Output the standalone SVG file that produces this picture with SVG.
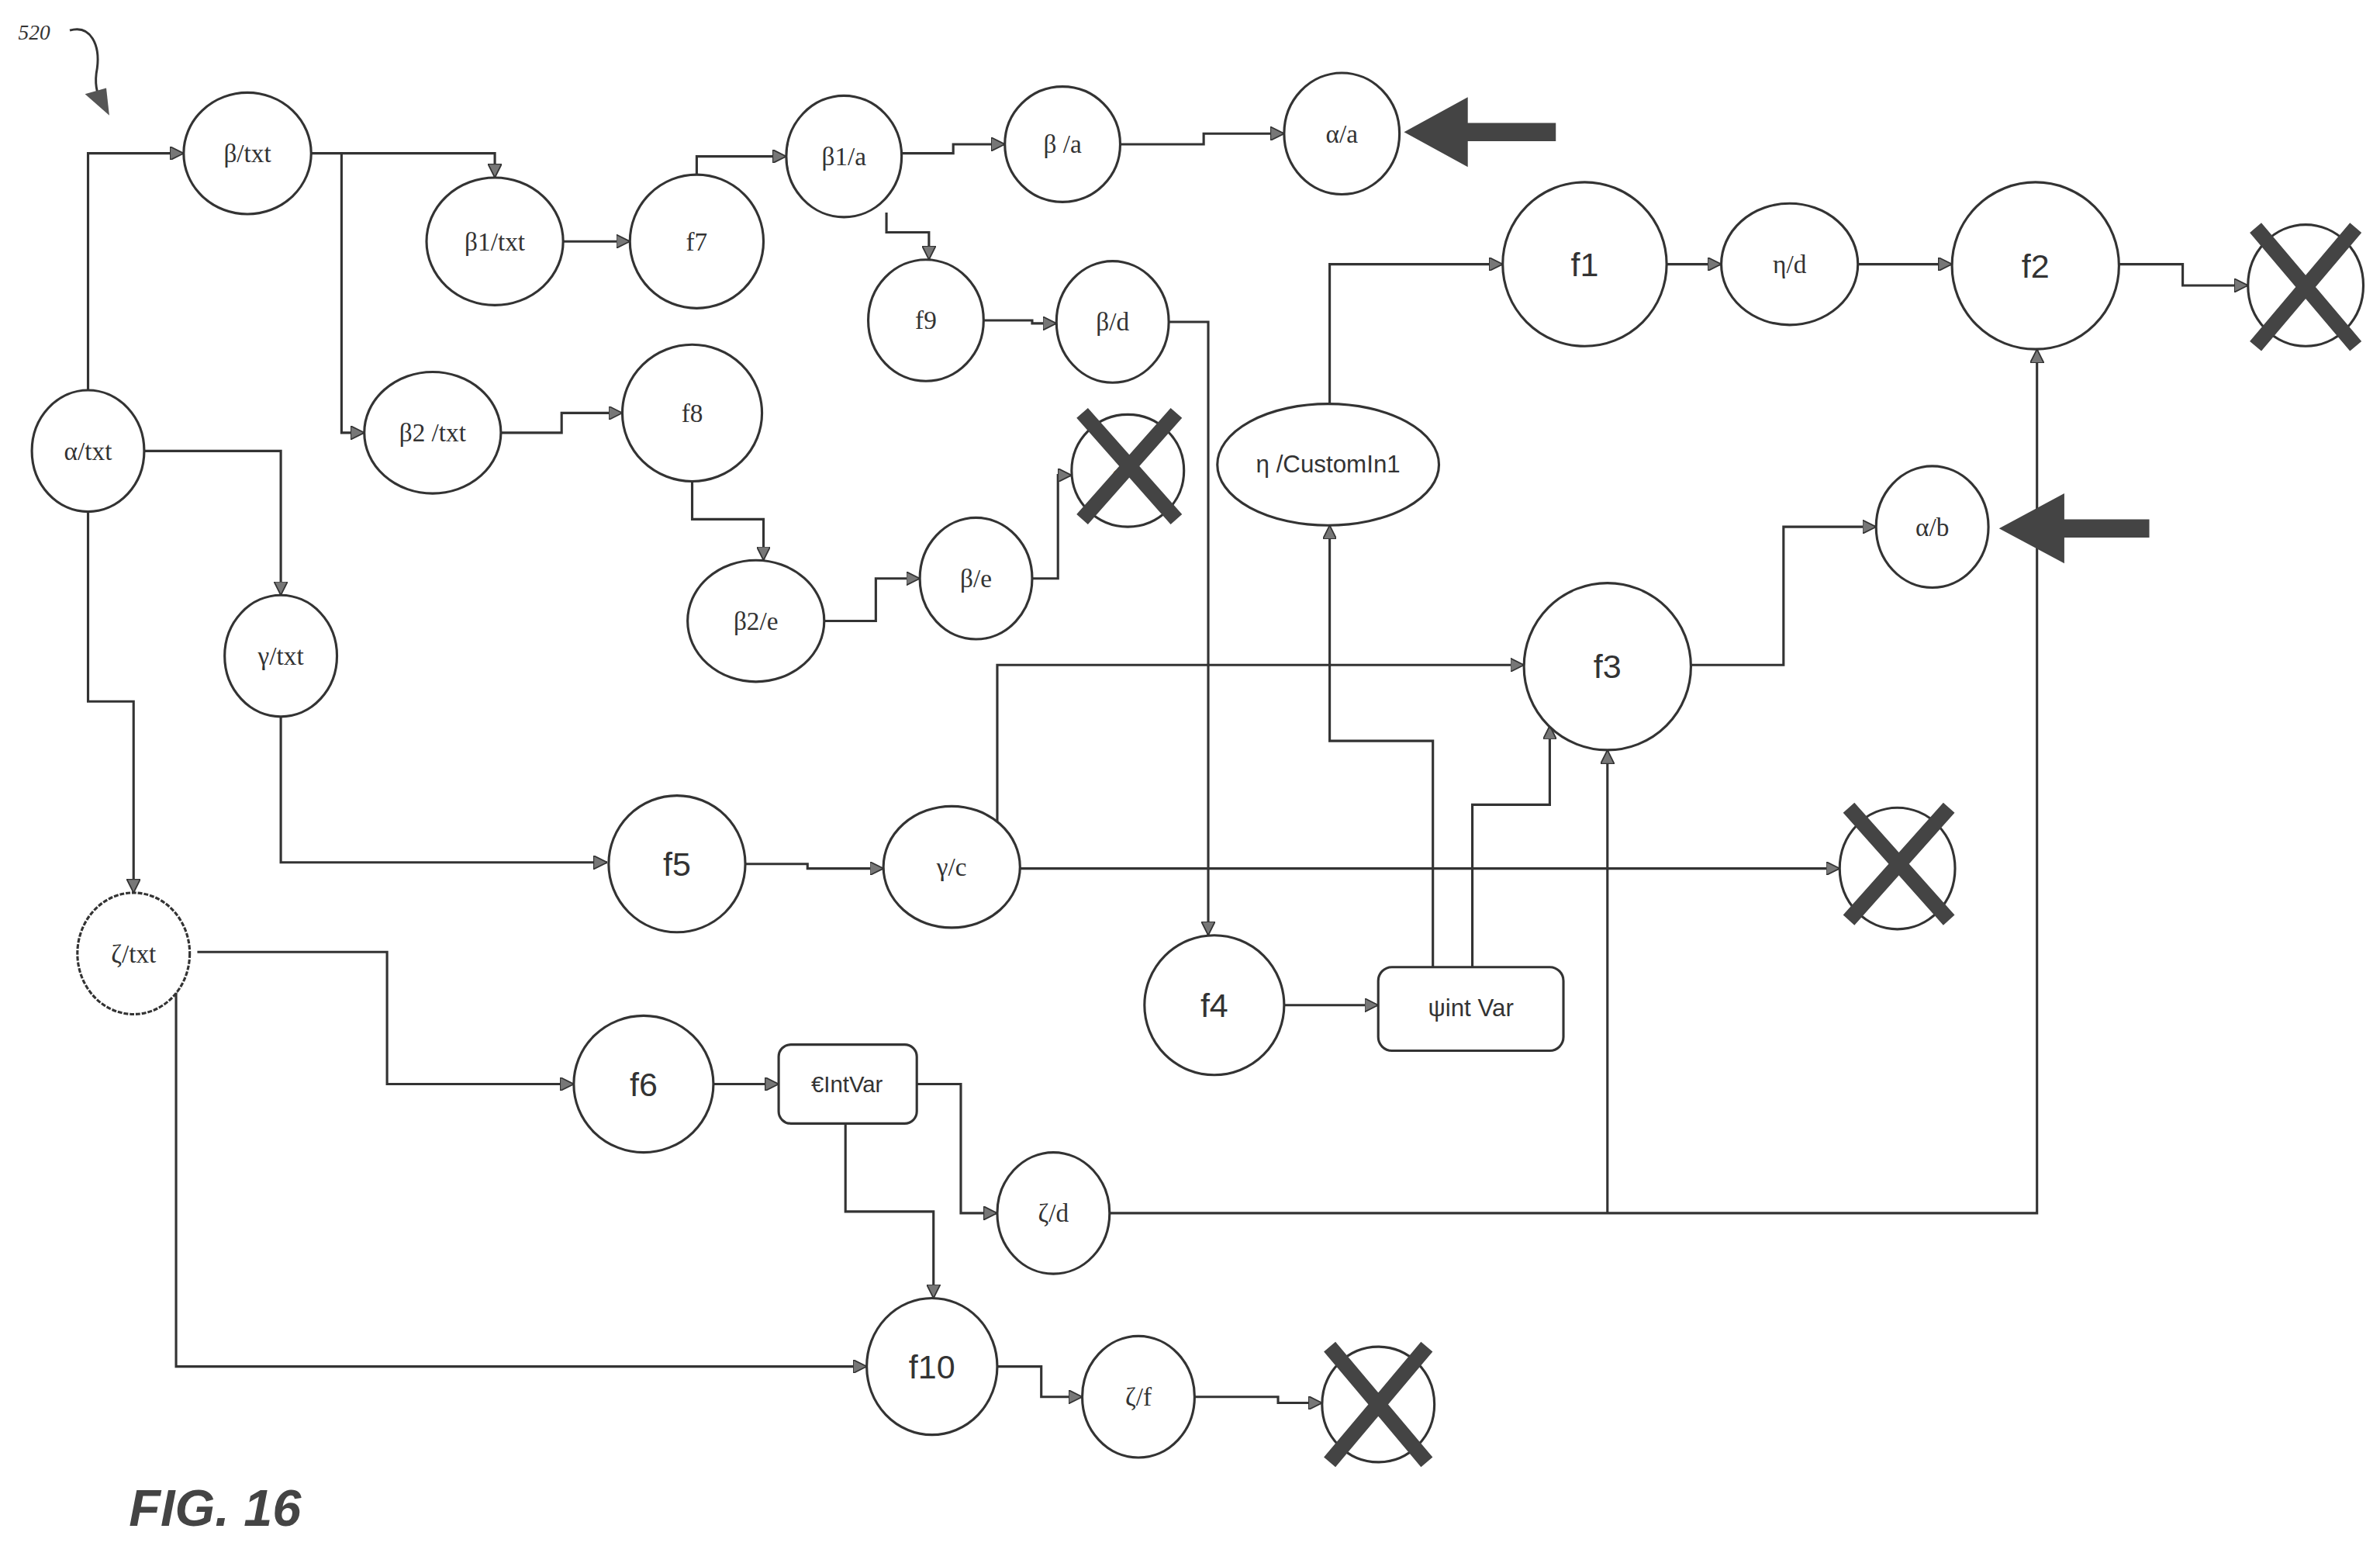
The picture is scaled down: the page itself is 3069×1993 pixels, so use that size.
<svg xmlns="http://www.w3.org/2000/svg" width="3069" height="1993" viewBox="0 0 3069 1993">
<style>
.n{fill:#fff;stroke:#333;stroke-width:1.6}
.c{fill:none;stroke:#333;stroke-width:1.6}
.g{font-family:"Liberation Serif",serif;font-size:17px;fill:#333;text-anchor:middle;dominant-baseline:central}
.s{font-family:"Liberation Sans",Arial,sans-serif;font-size:22px;fill:#333;text-anchor:middle;dominant-baseline:central}
.x{stroke:#444;stroke-width:10;stroke-linecap:butt}
.big{fill:#444}
</style>
<defs>
<marker id="a" viewBox="0 0 10 10" refX="10" refY="5" markerWidth="9" markerHeight="9" markerUnits="userSpaceOnUse" orient="auto">
<path d="M0,0 L10,5 L0,10 Z" fill="#777" stroke="#333" stroke-width="1"/>
</marker>
</defs>
<rect width="3069" height="1993" fill="#fff"/>
<g transform="scale(1.9573)">
<text x="12" y="26" style="font-family:'Liberation Serif',serif;font-size:14px;font-style:italic;fill:#333">520</text>
<path d="M46,20 C60,16 66,30 64,45 C62,55 64,62 66,64" fill="none" stroke="#333" stroke-width="1.5"/>
<path d="M56,62 L72,76 L70,58 Z" fill="#555"/>

<g id="connectors" class="c" marker-end="url(#a)">
<path d="M58,257 V101 H121"/>
<path d="M205,101 H326 V117"/>
<path d="M225,101 V285 H240"/>
<path d="M371,159 H415"/>
<path d="M459,115 V103 H518"/>
<path d="M594,101 H628 V95 H662"/>
<path d="M738,95 H793 V88 H846"/>
<path d="M584,140 V153 H612 V171"/>
<path d="M648,211 H680 V213 H696"/>
<path d="M770,212 H796 V616"/>
<path d="M330,285 H370 V272 H410"/>
<path d="M456,317 V342 H503 V369"/>
<path d="M543,409 H577 V381 H606"/>
<path d="M680,381 H697 V313 H706"/>
<path d="M95,297 H185 V392"/>
<path d="M185,472 V568 H400"/>
<path d="M491,569 H532 V572 H582"/>
<path d="M672,572 H1212"/>
<path d="M657,542 V438 H1004"/>
<path d="M58,337 V462 H88 V588"/>
<path d="M130,627 H255 V714 H378"/>
<path d="M116,652 V900 H571"/>
<path d="M470,714 H513"/>
<path d="M604,714 H633 V799 H657"/>
<path d="M557,740 V798 H615 V855"/>
<path d="M657,900 H686 V920 H713"/>
<path d="M787,920 H842 V924 H871"/>
<path d="M731,799 H1342 V230"/>
<path d="M1059,799 V494"/>
<path d="M846,662 H908"/>
<path d="M944,637 V488 H876 V346"/>
<path d="M970,637 V530 H1021 V478"/>
<path d="M876,266 V174 H990"/>
<path d="M1098,174 H1134"/>
<path d="M1224,174 H1286"/>
<path d="M1396,174 H1438 V188 H1481"/>
<path d="M1114,438 H1175 V347 H1236"/>
</g>

<g id="n-beta-txt"><ellipse class="n" cx="163" cy="101" rx="42" ry="40"/><text class="g" x="163" y="101">β/txt</text></g>
<g id="n-beta1-txt"><ellipse class="n" cx="326" cy="159" rx="45" ry="42"/><text class="g" x="326" y="159">β1/txt</text></g>
<g id="n-f7"><ellipse class="n" cx="459" cy="159" rx="44" ry="44"/><text class="g" x="459" y="159">f7</text></g>
<g id="n-beta1-a"><ellipse class="n" cx="556" cy="103" rx="38" ry="40"/><text class="g" x="556" y="103">β1/a</text></g>
<g id="n-beta-a"><ellipse class="n" cx="700" cy="95" rx="38" ry="38"/><text class="g" x="700" y="95">β /a</text></g>
<g id="n-alpha-a"><ellipse class="n" cx="884" cy="88" rx="38" ry="40"/><text class="g" x="884" y="88">α/a</text></g>
<g id="n-f9"><ellipse class="n" cx="610" cy="211" rx="38" ry="40"/><text class="g" x="610" y="211">f9</text></g>
<g id="n-beta-d"><ellipse class="n" cx="733" cy="212" rx="37" ry="40"/><text class="g" x="733" y="212">β/d</text></g>
<g id="n-beta2-txt"><ellipse class="n" cx="285" cy="285" rx="45" ry="40"/><text class="g" x="285" y="285">β2 /txt</text></g>
<g id="n-f8"><ellipse class="n" cx="456" cy="272" rx="46" ry="45"/><text class="g" x="456" y="272">f8</text></g>
<g id="n-beta2-e"><ellipse class="n" cx="498" cy="409" rx="45" ry="40"/><text class="g" x="498" y="409">β2/e</text></g>
<g id="n-beta-e"><ellipse class="n" cx="643" cy="381" rx="37" ry="40"/><text class="g" x="643" y="381">β/e</text></g>
<g id="n-x1"><ellipse class="n" cx="743" cy="310" rx="37" ry="37"/><text class="g" x="737" y="312">α</text><path class="x" d="M713,272 L775,342 M775,272 L713,342"/></g>
<g id="n-alpha-txt"><ellipse class="n" cx="58" cy="297" rx="37" ry="40"/><text class="g" x="58" y="297">α/txt</text></g>
<g id="n-gamma-txt"><ellipse class="n" cx="185" cy="432" rx="37" ry="40"/><text class="g" x="185" y="432">γ/txt</text></g>
<g id="n-f5"><ellipse class="n" cx="446" cy="569" rx="45" ry="45"/><text class="s" x="446" y="569">f5</text></g>
<g id="n-gamma-c"><ellipse class="n" cx="627" cy="571" rx="45" ry="40"/><text class="g" x="627" y="571">γ/c</text></g>
<g id="n-zeta-txt"><ellipse class="n" cx="88" cy="628" rx="37" ry="40" stroke-dasharray="3 1"/><text class="g" x="88" y="628">ζ/txt</text></g>
<g id="n-f6"><ellipse class="n" cx="424" cy="714" rx="46" ry="45"/><text class="s" x="424" y="714">f6</text></g>
<g id="n-eintvar"><rect class="n" x="513" y="688" width="91" height="52" rx="8"/><text class="s" style="font-size:15px" x="558" y="714">€IntVar</text></g>
<g id="n-zeta-d"><ellipse class="n" cx="694" cy="799" rx="37" ry="40"/><text class="g" x="694" y="799">ζ/d</text></g>
<g id="n-f10"><ellipse class="n" cx="614" cy="900" rx="43" ry="45"/><text class="s" x="614" y="900">f10</text></g>
<g id="n-zeta-f"><ellipse class="n" cx="750" cy="920" rx="37" ry="40"/><text class="g" x="750" y="920">ζ/f</text></g>
<g id="n-x4"><ellipse class="n" cx="908" cy="925" rx="37" ry="38"/><path class="x" d="M876,887 L940,963 M940,887 L876,963"/></g>
<g id="n-eta-custom"><ellipse class="n" cx="875" cy="306" rx="73" ry="40"/><text class="s" style="font-size:16px" x="875" y="306">η /CustomIn1</text></g>
<g id="n-f1"><ellipse class="n" cx="1044" cy="174" rx="54" ry="54"/><text class="s" x="1044" y="174">f1</text></g>
<g id="n-eta-d"><ellipse class="n" cx="1179" cy="174" rx="45" ry="40"/><text class="g" x="1179" y="174">η/d</text></g>
<g id="n-f2"><ellipse class="n" cx="1341" cy="175" rx="55" ry="55"/><text class="s" x="1341" y="175">f2</text></g>
<g id="n-x2"><ellipse class="n" cx="1519" cy="188" rx="38" ry="40"/><path class="x" d="M1486,150 L1552,228 M1552,150 L1486,228"/></g>
<g id="n-alpha-b"><ellipse class="n" cx="1273" cy="347" rx="37" ry="40"/><text class="g" x="1273" y="347">α/b</text></g>
<g id="n-f3"><ellipse class="n" cx="1059" cy="439" rx="55" ry="55"/><text class="s" x="1059" y="439">f3</text></g>
<g id="n-x3"><ellipse class="n" cx="1250" cy="572" rx="38" ry="40"/><path class="x" d="M1218,532 L1284,606 M1284,532 L1218,606"/></g>
<g id="n-f4"><ellipse class="n" cx="800" cy="662" rx="46" ry="46"/><text class="s" x="800" y="662">f4</text></g>
<g id="n-psi"><rect class="n" x="908" y="637" width="122" height="55" rx="9"/><text class="s" style="font-size:16px" x="969" y="664">ψint Var</text></g>

<path class="big" d="M925,87 L967,64 L967,81 L1025,81 L1025,93 L967,93 L967,110 Z"/>
<path class="big" d="M1317,348 L1360,325 L1360,342 L1416,342 L1416,354 L1360,354 L1360,371 Z"/>

<text x="85" y="1005" style="font-family:'Liberation Sans',Arial,sans-serif;font-size:34px;font-weight:bold;font-style:italic;fill:#444">FIG. 16</text>
</g>
</svg>
